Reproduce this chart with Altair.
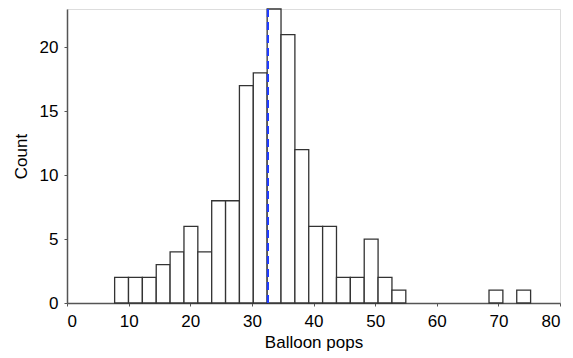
import altair as alt
import pandas as pd

# Histogram of balloon pops
bin_start = 7.73
bin_width = 2.25
counts = [2, 2, 2, 3, 4, 6, 4, 8, 8, 17, 18, 23, 21, 12, 6, 6, 2, 2, 5, 2, 1,
          0, 0, 0, 0, 0, 0, 1, 0, 1]
mean_value = [32.6]
x_ticks = [0, 10, 20, 30, 40, 50, 60, 70, 80]
y_ticks = [0, 5, 10, 15, 20]

lo = [round(bin_start + i * bin_width, 3) for i in range(len(counts))]
hi = [round(v + bin_width, 3) for v in lo]
df = pd.DataFrame({"lo": lo, "hi": hi, "count": counts})
df = df[df["count"] > 0]
mean_df = pd.DataFrame({"mean": mean_value, "y0": [0], "y1": [23]})

FONT = "Liberation Sans"

x_scale = alt.Scale(domain=[0, 80], nice=False, zero=False)
y_scale = alt.Scale(domain=[0, 23], nice=False)

bars = alt.Chart(df).mark_rect(
    fill="white", stroke="#333333", strokeWidth=1.3
).encode(
    x=alt.X("lo:Q", scale=x_scale,
            axis=alt.Axis(title="Balloon pops", values=x_ticks, grid=False,
                          tickSize=3, labelPadding=7, titlePadding=5,
                          domainColor="#555555", tickColor="#555555",
                          domainWidth=1.5, labelFontSize=17, titleFontSize=17,
                          labelFont=FONT, titleFont=FONT, titleFontWeight="normal",
                          labelColor="black", titleColor="black")),
    x2="hi:Q",
    y=alt.Y("count:Q", scale=y_scale,
            axis=alt.Axis(title="Count", values=y_ticks, grid=False,
                          tickSize=3, labelPadding=6, titlePadding=9,
                          domainColor="#555555", tickColor="#555555",
                          domainWidth=1.5, labelFontSize=17, titleFontSize=17,
                          labelFont=FONT, titleFont=FONT, titleFontWeight="normal",
                          labelColor="black", titleColor="black")),
    y2=alt.Y2(datum=0),
)

mean_line = alt.Chart(mean_df).mark_rule(
    color="#1f3cff", strokeWidth=2.2, strokeDash=[8, 5]
).encode(
    x=alt.X("mean:Q", scale=x_scale),
    y=alt.Y("y0:Q", scale=y_scale),
    y2="y1:Q",
)

chart = alt.layer(bars, mean_line).properties(
    width=493, height=294,
    autosize=alt.AutoSizeParams(type="none"),
    padding={"left": 67, "top": 9, "right": 13, "bottom": 55},
).configure_view(stroke=None).configure(background="white")

chart.save("out.html", embed_options={"renderer": "svg", "actions": False})
